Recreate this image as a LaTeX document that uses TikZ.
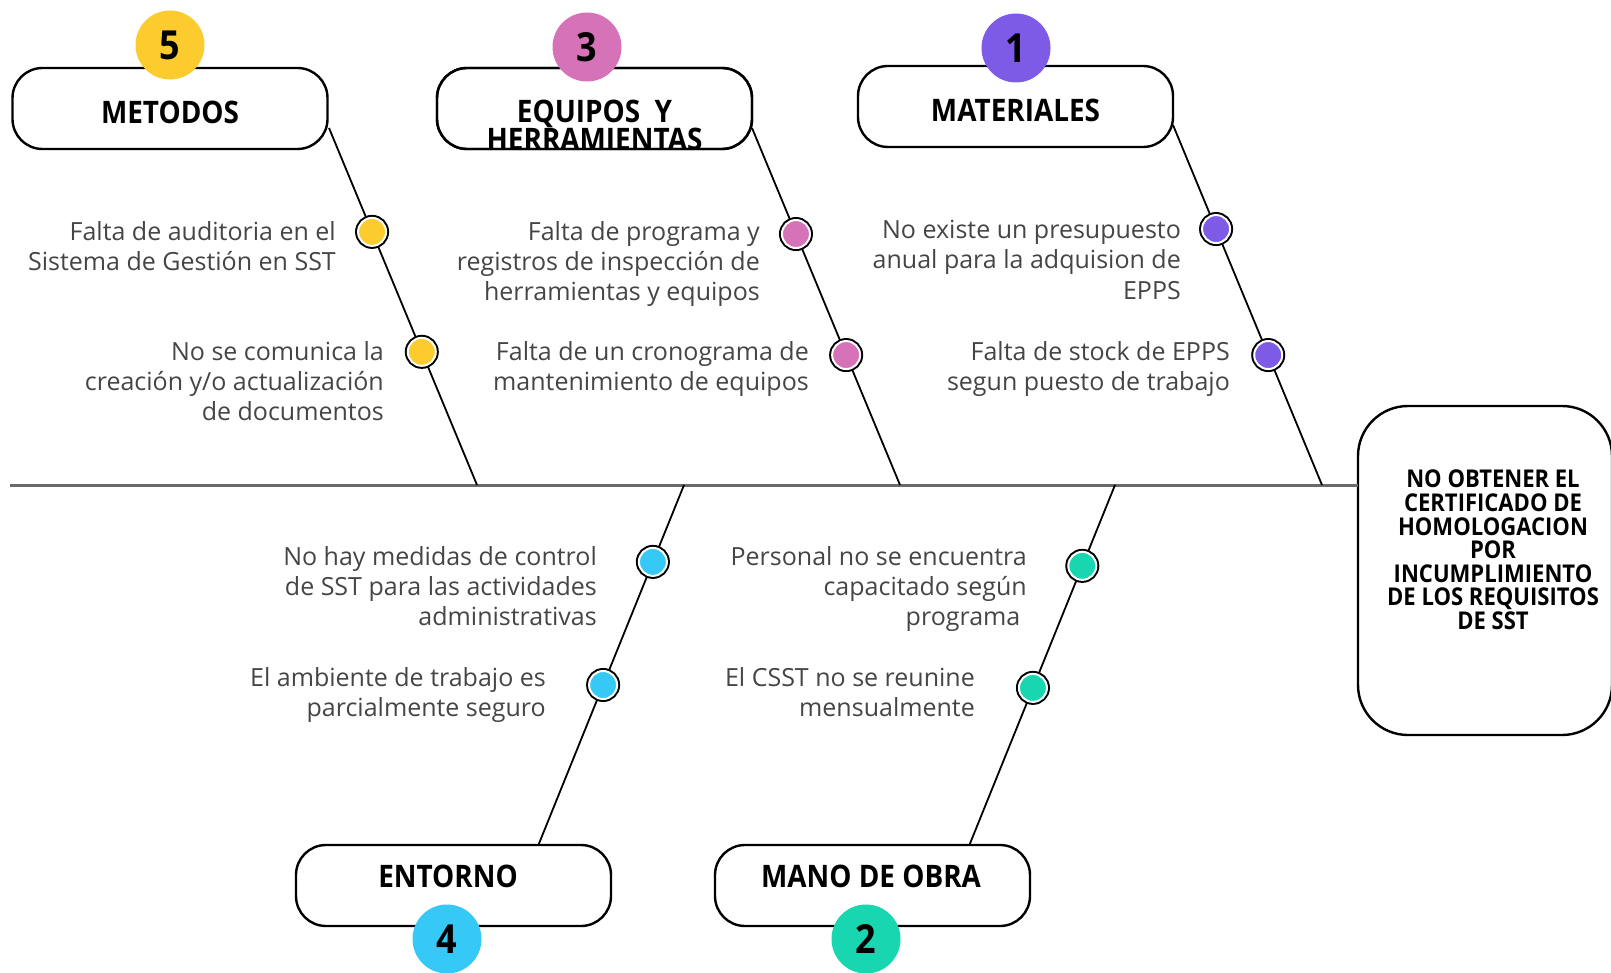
\documentclass[tikz,border=0pt]{standalone}
\usepackage{fontspec}
\setmainfont{Open Sans}
\newfontfamily\hdr{Open Sans}[FakeStretch=0.9]
\definecolor{cyel}{HTML}{FCCB2E}
\definecolor{cpink}{HTML}{D672B8}
\definecolor{cpur}{HTML}{7D5BE6}
\definecolor{cblue}{HTML}{36C9F5}
\definecolor{cteal}{HTML}{18D6B0}
\definecolor{ctxt}{HTML}{454545}
\definecolor{cspine}{HTML}{6A6A6A}
\tikzset{
  catbox/.style={draw=black, line width=2.4pt, fill=white, rounded corners=30pt,
    minimum width=315pt, minimum height=81pt, inner sep=0pt},
  cattext/.style={inner sep=0pt, align=center, font=\hdr\bfseries\fontsize{31}{28}\selectfont},
  numc/.style={circle, fill=#1, minimum size=69pt, inner sep=0pt,
    font=\hdr\bfseries\fontsize{40}{40}\selectfont},
  bone/.style={line width=1.8pt, draw=black},
  spine/.style={line width=3pt, draw=cspine},
  cause/.style={align=right, anchor=north east, inner sep=0pt, text=ctxt,
    font=\fontsize{25}{30.3}\selectfont},
  causedot/.style={circle, inner sep=0pt, minimum size=28pt, fill=#1, draw=white,
    line width=2pt, preaction={draw=black, line width=6pt}},
  effbox/.style={draw=black, line width=2.4pt, fill=white, rounded corners=50pt,
    minimum width=254pt, minimum height=329pt, inner sep=0pt},
  efftext/.style={inner sep=0pt, align=center, font=\hdr\bfseries\fontsize{24.5}{23.6}\selectfont}
}
\begin{document}
\begin{tikzpicture}[x=1pt,y=-1pt]
\useasboundingbox (0,0) rectangle (1611,973);
% spine and effect
\node[effbox] (eff) at (1485,570.5) {};
\coordinate (tail) at (10,485);
\coordinate (head) at (1358,485);
\draw[spine] (tail) -- (head);
\node[efftext] (efft) at (1493,550) {NO OBTENER EL\\CERTIFICADO DE\\HOMOLOGACION\\POR\\INCUMPLIMIENTO\\DE LOS REQUISITOS\\DE SST};
% bone ends
\coordinate (sM) at (477,485);  \coordinate (eM) at (329,128);
\coordinate (sE) at (900,485);  \coordinate (eE) at (752,128);
\coordinate (sA) at (1322,485); \coordinate (eA) at (1173,125);
\coordinate (sN) at (684,485);  \coordinate (eN) at (538,846);
\coordinate (sO) at (1115,485); \coordinate (eO) at (969,846);
\draw[bone] (sM) -- (eM);
\draw[bone] (sE) -- (eE);
\draw[bone] (sA) -- (eA);
\draw[bone] (sN) -- (eN);
\draw[bone] (sO) -- (eO);
% category boxes
\node[catbox] (met) at (170,108.5) {};
\node[cattext] (mett) at (170,112) {METODOS};
\node[catbox] (equ) at (594.5,108.5) {};
\begin{scope}
  \clip[rounded corners=30pt] (437,68) rectangle (752,149);
  \node[cattext] (equt) at (594.5,125) {EQUIPOS\ \ Y\\HERRAMIENTAS};
\end{scope}
\draw[line width=2.4pt, rounded corners=30pt] (437,68) rectangle (752,149);
\node[catbox] (mat) at (1015.5,106.5) {};
\node[cattext] (matt) at (1015.5,110.5) {MATERIALES};
\node[catbox] (ent) at (453.5,885.5) {};
\node[cattext] (entt) at (448,876) {ENTORNO};
\node[catbox] (man) at (872.5,885.5) {};
\node[cattext] (mant) at (871,876) {MANO DE OBRA};
% number circles
\node[numc=cyel] (n5) at (170,45) {5};
\node[numc=cpink] (n3) at (587,47) {3};
\node[numc=cpur] (n1) at (1016,48) {1};
\node[numc=cblue] (n4) at (447,939) {4};
\node[numc=cteal] (n2) at (866,939) {2};
% cause dots
\path (eM) -- (sM) node[pos=0.291, causedot=cyel] (dm1) {} node[pos=0.627, causedot=cyel] (dm2) {};
\path (eE) -- (sE) node[pos=0.297, causedot=cpink] (de1) {} node[pos=0.636, causedot=cpink] (de2) {};
\path (eA) -- (sA) node[pos=0.289, causedot=cpur] (da1) {} node[pos=0.639, causedot=cpur] (da2) {};
\path (sN) -- (eN) node[pos=0.213, causedot=cblue] (dn1) {} node[pos=0.554, causedot=cblue] (dn2) {};
\path (sO) -- (eO) node[pos=0.224, causedot=cteal] (do1) {} node[pos=0.562, causedot=cteal] (do2) {};
% cause texts
\node[cause] (tm1) at (336,221) {Falta de auditoria en el\\Sistema de Gestión en SST};
\node[cause] (tm2) at (384,341) {No se comunica la\\creación y/o actualización\\de documentos};
\node[cause] (te1) at (760,221) {Falta de programa y\\registros de inspección de\\herramientas y equipos};
\node[cause] (te2) at (809,341) {Falta de un cronograma de\\mantenimiento de equipos};
\node[cause] (ta1) at (1181,220) {No existe un presupuesto\\anual para la adquision de\\EPPS};
\node[cause] (ta2) at (1230,341) {Falta de stock de EPPS\\segun puesto de trabajo};
\node[cause] (tn1) at (597,546) {No hay medidas de control\\de SST para las actividades\\administrativas};
\node[cause] (tn2) at (546,667) {El ambiente de trabajo es\\parcialmente seguro};
\node[cause] (to1) at (1027,546) {Personal no se encuentra\\capacitado según\\programa\ \ };
\node[cause] (to2) at (975,667) {El CSST no se reunine\\mensualmente};
\end{tikzpicture}
\end{document}
